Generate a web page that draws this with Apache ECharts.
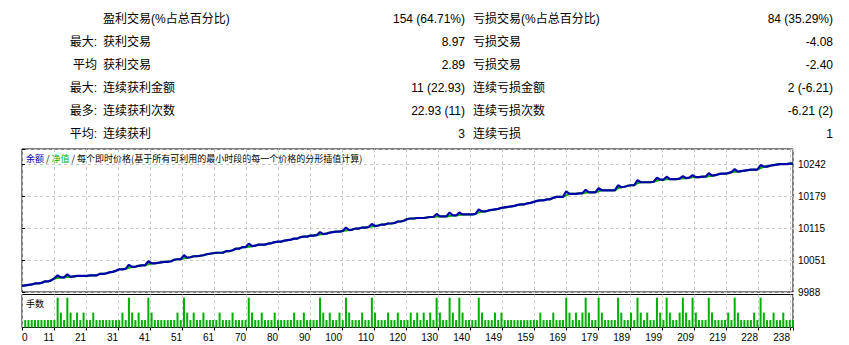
<!DOCTYPE html>
<html>
<head>
<meta charset="utf-8">
<title>测试报告</title>
<script src="https://cdn.jsdelivr.net/npm/echarts@6.0.0/dist/echarts.min.js"></script>
<style>
  html, body { margin: 0; padding: 0; background: #fff; }
  #chart { width: 849px; height: 345px; }
</style>
</head>
<body>
<div id="chart"></div>
<script>
// 统计表
const statPrefix = ['', '最大:', '平均', '最大:', '最多:', '平均:']
const winNames = ['盈利交易(%占总百分比)', '获利交易', '获利交易', '连续获利金额', '连续获利次数', '连续获利']
const winValues = ['154 (64.71%)', '8.97', '2.89', '11 (22.93)', '22.93 (11)', '3']
const lossNames = ['亏损交易(%占总百分比)', '亏损交易', '亏损交易', '连续亏损金额', '连续亏损次数', '连续亏损']
const lossValues = ['84 (35.29%)', '-4.08', '-2.40', '2 (-6.21)', '-6.21 (2)', '1']

// 余额, 交易编号 0..238
const balance = [
  10000, 10001, 10002, 10003, 10005, 10005, 10006, 10009, 10009, 10011,
  10015, 10021, 10017, 10017, 10023, 10018, 10019, 10020, 10020, 10020,
  10020, 10021, 10021, 10021, 10024, 10024, 10025, 10027, 10028, 10030,
  10033, 10033, 10034, 10042, 10038, 10038, 10040, 10041, 10041, 10049,
  10045, 10045, 10046, 10047, 10048, 10048, 10049, 10052, 10053, 10053,
  10061, 10056, 10057, 10059, 10059, 10060, 10061, 10063, 10064, 10065,
  10066, 10066, 10066, 10069, 10069, 10071, 10074, 10074, 10077, 10077,
  10084, 10079, 10080, 10082, 10082, 10082, 10084, 10085, 10087, 10088,
  10088, 10090, 10091, 10092, 10094, 10094, 10097, 10098, 10098, 10100,
  10100, 10101, 10107, 10103, 10104, 10106, 10107, 10108, 10108, 10109,
  10116, 10111, 10112, 10114, 10114, 10116, 10116, 10117, 10123, 10119,
  10120, 10122, 10122, 10124, 10124, 10125, 10128, 10128, 10130, 10133,
  10134, 10134, 10135, 10135, 10135, 10136, 10137, 10137, 10143, 10138,
  10138, 10138, 10146, 10140, 10140, 10146, 10142, 10142, 10142, 10142,
  10143, 10152, 10148, 10148, 10150, 10151, 10152, 10153, 10155, 10156,
  10157, 10158, 10159, 10161, 10162, 10162, 10164, 10165, 10167, 10169,
  10170, 10170, 10172, 10172, 10175, 10177, 10177, 10177, 10188, 10183,
  10183, 10183, 10184, 10184, 10191, 10186, 10186, 10186, 10194, 10190,
  10190, 10190, 10190, 10190, 10200, 10196, 10197, 10199, 10200, 10200,
  10210, 10206, 10206, 10206, 10206, 10207, 10215, 10211, 10211, 10217,
  10212, 10212, 10212, 10213, 10218, 10214, 10215, 10220, 10216, 10216,
  10217, 10217, 10224, 10219, 10220, 10222, 10223, 10223, 10224, 10226,
  10232, 10227, 10228, 10229, 10230, 10231, 10231, 10231, 10240, 10237,
  10237, 10239, 10240, 10241, 10242, 10242, 10242, 10243, 10243
]

// 净值低于余额的交易 [交易编号, 净值]
const equityDips = [
  [11, 10016], [14, 10018], [33, 10036], [39, 10043], [50, 10055],
  [70, 10078], [92, 10102], [100, 10110], [108, 10118], [128, 10138],
  [132, 10139], [135, 10141], [141, 10146], [168, 10180], [174, 10185],
  [178, 10188], [184, 10194], [190, 10204], [196, 10209], [199, 10212],
  [204, 10214], [207, 10216], [212, 10218], [220, 10227], [228, 10234]
]

// 手数, 交易编号 1..238
const lots = [
  0.01, 0.01, 0.01, 0.01, 0.01, 0.01, 0.01, 0.01, 0.01, 0.01,
  0.04, 0.02, 0.01, 0.04, 0.02, 0.01, 0.02, 0.01, 0.02, 0.01,
  0.01, 0.02, 0.01, 0.01, 0.01, 0.01, 0.01, 0.01, 0.01, 0.01,
  0.02, 0.01, 0.04, 0.02, 0.01, 0.02, 0.01, 0.01, 0.04, 0.02,
  0.01, 0.01, 0.01, 0.01, 0.01, 0.01, 0.01, 0.02, 0.01, 0.04,
  0.02, 0.01, 0.02, 0.01, 0.01, 0.02, 0.01, 0.01, 0.01, 0.01,
  0.02, 0.01, 0.01, 0.01, 0.02, 0.01, 0.01, 0.01, 0.01, 0.04,
  0.02, 0.01, 0.01, 0.02, 0.01, 0.01, 0.01, 0.02, 0.01, 0.01,
  0.01, 0.01, 0.01, 0.02, 0.01, 0.01, 0.02, 0.01, 0.01, 0.01,
  0.01, 0.04, 0.02, 0.01, 0.02, 0.01, 0.01, 0.02, 0.01, 0.04,
  0.02, 0.01, 0.01, 0.01, 0.02, 0.01, 0.01, 0.04, 0.02, 0.01,
  0.01, 0.01, 0.02, 0.01, 0.01, 0.02, 0.01, 0.01, 0.01, 0.02,
  0.01, 0.02, 0.01, 0.02, 0.01, 0.02, 0.01, 0.04, 0.02, 0.01,
  0.01, 0.04, 0.02, 0.01, 0.04, 0.02, 0.01, 0.01, 0.01, 0.01,
  0.04, 0.02, 0.01, 0.01, 0.01, 0.02, 0.01, 0.02, 0.01, 0.01,
  0.01, 0.01, 0.01, 0.01, 0.01, 0.01, 0.01, 0.01, 0.01, 0.02,
  0.01, 0.01, 0.01, 0.02, 0.01, 0.01, 0.01, 0.04, 0.02, 0.01,
  0.02, 0.01, 0.02, 0.04, 0.02, 0.01, 0.01, 0.04, 0.02, 0.01,
  0.01, 0.01, 0.01, 0.04, 0.02, 0.01, 0.01, 0.02, 0.01, 0.04,
  0.02, 0.01, 0.02, 0.01, 0.01, 0.04, 0.02, 0.01, 0.04, 0.02,
  0.01, 0.01, 0.02, 0.04, 0.02, 0.01, 0.04, 0.02, 0.01, 0.01,
  0.01, 0.04, 0.02, 0.01, 0.01, 0.01, 0.01, 0.02, 0.01, 0.04,
  0.02, 0.01, 0.01, 0.01, 0.01, 0.02, 0.01, 0.04, 0.02, 0.01,
  0.01, 0.02, 0.01, 0.01, 0.02, 0.01, 0.01, 0.01
]

// 坐标轴刻度文字
const xLabels = ['0', '11', '21', '31', '41', '51', '61', '70', '80', '90', '100', '110', '120',
  '130', '140', '149', '159', '169', '179', '189', '199', '209', '219', '228', '238']
const yTicks = [9988, 10051, 10115, 10179, 10242]

const legendText = '{b|余额} / {g|净值} / 每个即时价格(基于所有可利用的最小时段的每一个价格的分形插值计算)'
const volumeTitle = '手数'

// 净值 = 余额, 但在浮亏处取表中的值
const equity = balance.slice()
equityDips.forEach(([i, v]) => { equity[i] = v })

const BLUE = '#0000aa'
const GREEN = '#00b000'
const GRID_DASH = { color: '#c8c8c8', type: [3, 3], width: 1 }

const xMax = 238
const xStep = xMax * 32 / 771
const yMin = 9988
const yStep = 63.5
const yMax = 10272

function xFmt(v) {
  const k = v / xStep
  const n = Math.round(k)
  if (Math.abs(k - n) > 0.01) return ''
  return xLabels[n] || ''
}
function yFmt(v) {
  const k = (v - yMin) / yStep
  const n = Math.round(k)
  if (Math.abs(k - n) > 0.01) return ''
  return yTicks[n] !== undefined ? String(yTicks[n]) : ''
}

// 表格文字
const tableFont = '12px "Liberation Sans", "Noto Sans CJK SC", sans-serif'
const tableGraphics = []
statPrefix.forEach((t, r) => {
  const y = 18.5 + 23 * r
  const cells = [
    [t, 97, 'right'],
    [winNames[r], 103, 'left'],
    [winValues[r], 465, 'right'],
    [lossNames[r], 473, 'left'],
    [lossValues[r], 833, 'right']
  ]
  cells.forEach(([text, x, align]) => {
    if (!text) return
    tableGraphics.push({
      type: 'text',
      silent: true,
      style: { text, x, y, align, verticalAlign: 'middle', font: tableFont, fill: '#000' }
    })
  })
})

const chart = echarts.init(document.getElementById('chart'), null, { renderer: 'svg' })

chart.setOption({
  animation: false,
  backgroundColor: '#fff',
  grid: [
    { left: 22, top: 149, width: 771, height: 143, show: true, borderColor: '#000', borderWidth: 1 },
    { left: 22, top: 294.5, width: 771, height: 33, show: true, borderColor: '#000', borderWidth: 1 }
  ],
  xAxis: [
    {
      gridIndex: 0, type: 'value', min: 0, max: xMax, interval: xStep,
      axisLine: { show: false }, axisTick: { show: false }, axisLabel: { show: false },
      splitLine: { show: true, lineStyle: GRID_DASH }
    },
    {
      gridIndex: 1, type: 'value', min: 0, max: xMax, interval: xStep,
      axisLine: { show: false },
      axisTick: { show: true, length: 3, lineStyle: { color: '#000' } },
      axisLabel: {
        show: true, formatter: xFmt, margin: 5, align: 'right', alignMinLabel: 'left',
        color: '#000', fontSize: 10, fontFamily: '"Liberation Sans", sans-serif'
      },
      splitLine: { show: true, lineStyle: GRID_DASH }
    }
  ],
  yAxis: [
    {
      gridIndex: 0, type: 'value', position: 'right', min: yMin, max: yMax, interval: yStep,
      axisLine: { show: false },
      axisTick: { show: true, length: 3, lineStyle: { color: '#000' } },
      axisLabel: {
        show: true, formatter: yFmt, margin: 5, color: '#000',
        fontSize: 10, fontFamily: '"Liberation Sans", sans-serif'
      },
      splitLine: { show: true, lineStyle: GRID_DASH }
    },
    {
      gridIndex: 1, type: 'value', min: 0, max: 0.0443,
      axisLine: { show: false }, axisTick: { show: false }, axisLabel: { show: false },
      splitLine: { show: false }
    }
  ],
  graphic: [
    {
      type: 'text', silent: true,
      style: {
        text: legendText, x: 26, y: 158, verticalAlign: 'middle',
        font: '9px "Noto Sans CJK SC", sans-serif', fill: '#000',
        rich: {
          b: { fill: BLUE, font: '9px "Noto Sans CJK SC", sans-serif' },
          g: { fill: GREEN, font: '9px "Noto Sans CJK SC", sans-serif' }
        }
      }
    },
    {
      type: 'text', silent: true,
      style: {
        text: volumeTitle, x: 26, y: 303, verticalAlign: 'middle',
        font: '9px "Noto Sans CJK SC", sans-serif', fill: '#000'
      }
    }
  ].concat(tableGraphics),
  series: [
    {
      name: '净值', type: 'line', xAxisIndex: 0, yAxisIndex: 0, z: 2,
      data: equity.map((v, i) => [i, v]),
      symbol: 'none', lineStyle: { color: GREEN, width: 2 }
    },
    {
      name: '余额', type: 'line', xAxisIndex: 0, yAxisIndex: 0, z: 3,
      data: balance.map((v, i) => [i, v]),
      symbol: 'none', lineStyle: { color: BLUE, width: 2.2 }
    },
    {
      name: '手数', type: 'bar', xAxisIndex: 1, yAxisIndex: 1,
      data: lots.map((v, i) => [i + 1, v]),
      barWidth: 2, itemStyle: { color: GREEN }
    }
  ]
})
</script>
</body>
</html>
